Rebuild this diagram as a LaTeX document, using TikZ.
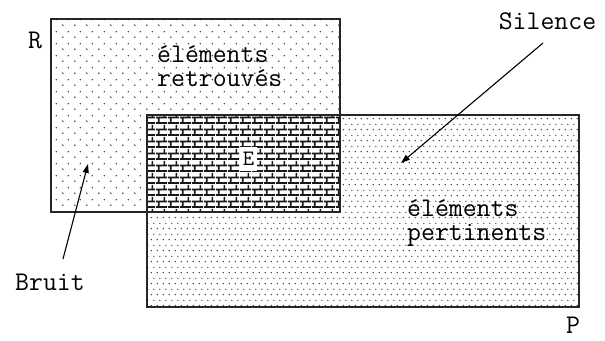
\documentclass[tikz,border=0pt]{standalone}
\usetikzlibrary{patterns,arrows.meta}
\pgfdeclarepatternformonly{sparsedots}{\pgfpointorigin}{\pgfpoint{12pt}{12pt}}{\pgfpoint{12pt}{12pt}}{%
  \pgfpathcircle{\pgfpoint{3pt}{3pt}}{0.85pt}%
  \pgfpathcircle{\pgfpoint{9pt}{9pt}}{0.85pt}%
  \pgfusepath{fill}}
\pgfdeclarepatternformonly{densedots}{\pgfpointorigin}{\pgfpoint{6pt}{11.2pt}}{\pgfpoint{6pt}{11.2pt}}{%
  \pgfpathcircle{\pgfpoint{1.5pt}{1.5pt}}{0.8pt}%
  \pgfpathcircle{\pgfpoint{4.5pt}{7.1pt}}{0.8pt}%
  \pgfusepath{fill}}
\pgfdeclarepatternformonly{mybricks}{\pgfpointorigin}{\pgfpoint{12pt}{12pt}}{\pgfpoint{12pt}{12pt}}{%
  \pgfsetlinewidth{1.8pt}%
  \pgfpathmoveto{\pgfpoint{0pt}{1pt}}\pgfpathlineto{\pgfpoint{12pt}{1pt}}%
  \pgfpathmoveto{\pgfpoint{0pt}{7pt}}\pgfpathlineto{\pgfpoint{12pt}{7pt}}%
  \pgfpathmoveto{\pgfpoint{3pt}{1pt}}\pgfpathlineto{\pgfpoint{3pt}{7pt}}%
  \pgfpathmoveto{\pgfpoint{9pt}{7pt}}\pgfpathlineto{\pgfpoint{9pt}{12pt}}%
  \pgfpathmoveto{\pgfpoint{9pt}{0pt}}\pgfpathlineto{\pgfpoint{9pt}{1pt}}%
  \pgfusepath{stroke}}
\tikzset{
  setbox/.style={draw=black!85, line width=1.4pt},
  lbl/.style={font=\ttfamily\fontsize{27}{24.5}\selectfont, inner sep=0pt},
  ptr/.style={draw=black, line width=1.1pt, -{Triangle[length=9pt,width=6pt]}},
}
\begin{document}
\begin{tikzpicture}[x=1pt,y=-1pt]
\useasboundingbox (0,0) rectangle (605,340);
% fills
\fill[pattern=sparsedots, pattern color=black!80] (51,19) rectangle (340,212);
\fill[pattern=densedots, pattern color=black!80] (147,115) rectangle (579,307);
\fill[white] (147,115) rectangle (340,212);
\fill[pattern=mybricks, pattern color=black!90] (147,115) rectangle (340,212);
% borders
\draw[setbox] (51,19) rectangle (340,212);
\draw[setbox] (147,115) rectangle (579,307);
% labels
\node[lbl, anchor=base west, align=left] (ret) at (157,86.5) {éléments\\retrouvés};
\node[lbl, anchor=base west, align=left] (per) at (407,240.5) {éléments\\pertinents};
\node[lbl, anchor=base] (R) at (35,48) {R};
\node[lbl, anchor=base] (P) at (573,333) {P};
\node[lbl, anchor=base] (sil) at (547.5,29) {Silence};
\node[lbl, anchor=base] (bru) at (50,290) {Bruit};
\node[fill=white, inner xsep=3pt, inner ysep=5pt, font=\ttfamily\fontsize{22}{22}\selectfont] (E) at (248.5,159) {E};
% pointers
\coordinate (silend) at (401,163);
\coordinate (bruend) at (88,164);
\draw[ptr] (543,43) -- (silend);
\draw[ptr] (63,259) -- (bruend);
\end{tikzpicture}
\end{document}
